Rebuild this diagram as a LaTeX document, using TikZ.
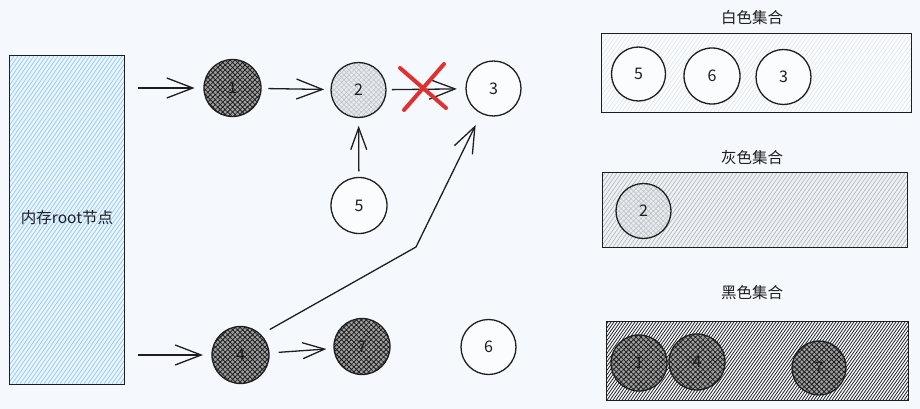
\documentclass[tikz,border=0pt]{standalone}
\usepackage{fontspec}
\setmainfont{Noto Sans CJK SC}
\usetikzlibrary{arrows.meta,patterns.meta,calc}
\definecolor{bg}{RGB}{245,249,253}
\definecolor{ink}{RGB}{30,30,30}
\definecolor{darkbg}{RGB}{160,160,160}
\definecolor{lightbg}{RGB}{233,236,239}
\definecolor{lighthatch}{RGB}{190,195,200}
\definecolor{rootbg}{RGB}{236,246,254}
\definecolor{rootline}{RGB}{150,205,250}
\definecolor{whiteline}{RGB}{224,229,234}
\definecolor{grayline}{RGB}{175,178,182}
\definecolor{xred}{RGB}{224,49,49}
\newcommand{\numfont}{\fontsize{16}{16}\selectfont}
\newcommand{\labfont}{\fontsize{15.5}{16}\selectfont}
\tikzset{
  base/.style={line width=1.3pt, draw=ink},
  circ/.style={base, circle, inner sep=0pt, minimum size=55pt, font=\numfont, text=ink},
  darknode/.style={circ, preaction={fill=darkbg}, pattern={Hatch[angle=45,distance=3.5pt,line width=0.8pt]}, pattern color=ink},
  graynode/.style={circ, preaction={fill=lightbg}, pattern={Hatch[angle=45,distance=3.5pt,line width=0.6pt]}, pattern color=lighthatch},
  whitenode/.style={circ, fill=white!55!bg},
  arr/.style={base, -{Straight Barb[length=26pt,width=20pt]}},
  arrs/.style={base, -{Straight Barb[length=22pt,width=16pt]}},
  boxfill/.style={rectangle, inner sep=0pt},
  boxedge/.style={base},
  title/.style={font=\labfont, text=ink},
  redx/.style={draw=xred, line width=4pt, line cap=round}
}
\begin{document}
\begin{tikzpicture}[x=1pt,y=-1pt]
\fill[bg] (0,0) rectangle (920,409);
\useasboundingbox (0,0) rectangle (920,409);

% root box
\node[boxfill, fill=rootbg, minimum width=114pt, minimum height=328pt] (root) at (67,220) {};
\begin{scope}
  \clip (root.south west) rectangle (root.north east);
  \foreach \x in {-240,-236,...,130} \draw[rootline, line width=0.8pt] (\x,384) -- ++(230,-328);
\end{scope}
\draw[boxedge] (root.south west) rectangle (root.north east);
\node[font=\labfont, text=ink] (rootlab) at (67,218) {内存root节点};

% graph nodes
\node[darknode, minimum size=57pt] (n1) at (232.5,88) {1};
\node[graynode] (n2) at (358.5,90) {2};
\node[whitenode] (n3) at (493.5,88.5) {3};
\node[whitenode, minimum size=56pt] (n5) at (359,205.5) {5};
\node[darknode, minimum size=57pt] (n4) at (240.5,355) {4};
\node[darknode, minimum size=56pt] (n7) at (362,346.5) {7};
\node[whitenode] (n6) at (488.5,347) {6};
\coordinate (bend) at (416,247);

% connectors
\draw[arr, shorten <=13.5pt, shorten >=9pt] (root.east |- n1) -- (n1);
\draw[arr, shorten <=7pt, shorten >=6.5pt] (n1) -- (n2);
\draw[arr, shorten <=5.5pt, shorten >=8.5pt] (n2) -- (n3);
\draw[arrs, shorten <=5.5pt, shorten >=8pt] (n5) -- (n2);
\draw[arr, shorten <=10pt, shorten >=12.5pt] (n4.45) -- (bend) -- (n3);
\draw[arr, shorten <=14pt, shorten >=8.4pt] (root.east |- n4) -- (n4);
\draw[arrs, shorten <=9pt, shorten >=7pt] (n4) -- (n7);

% red cross
\draw[redx] (400,68) -- (446,108);
\draw[redx] (404,110) -- (444,64);

% white set
\node[title] (wt) at (752,18) {白色集合};
\node[boxfill, fill=white!50!bg, minimum width=309pt, minimum height=78pt] (wset) at (756.5,73) {};
\begin{scope}
  \clip (wset.south west) rectangle (wset.north east);
  \foreach \x in {546,550,...,912} \draw[whiteline, line width=0.6pt] (\x,112) -- ++(55,-78);
\end{scope}
\draw[boxedge] (wset.south west) rectangle (wset.north east);
\node[whitenode, minimum size=54pt] (w5) at (638.5,74) {5};
\node[whitenode, minimum size=56pt] (w6) at (712,76) {6};
\node[whitenode] (w3) at (783.5,77) {3};

% gray set
\node[title] (gt) at (752,158) {灰色集合};
\node[boxfill, fill=lightbg!60!bg, minimum width=304pt, minimum height=74pt] (gset) at (755,210) {};
\begin{scope}
  \clip (gset.south west) rectangle (gset.north east);
  \foreach \x in {549,553,...,908} \draw[grayline, line width=0.6pt] (\x,247) -- ++(52,-74);
\end{scope}
\draw[boxedge] (gset.south west) rectangle (gset.north east);
\node[graynode] (g2) at (643.5,211) {2};

% black set
\node[title] (bt) at (752,293) {黑色集合};
\node[boxfill, minimum width=301pt, minimum height=78pt] (bset) at (757.5,361) {};
\begin{scope}
  \clip (bset.south west) rectangle (bset.north east);
  \foreach \x in {550,553,...,909} \draw[ink, line width=0.75pt] (\x,400) -- ++(55,-78);
\end{scope}
\draw[boxedge] (bset.south west) rectangle (bset.north east);
\node[darknode, minimum size=56pt] (b1) at (639,363) {1};
\node[darknode, minimum size=56pt] (b4) at (697,362) {4};
\node[darknode, minimum size=54pt] (b7) at (819,368) {7};
\end{tikzpicture}
\end{document}
